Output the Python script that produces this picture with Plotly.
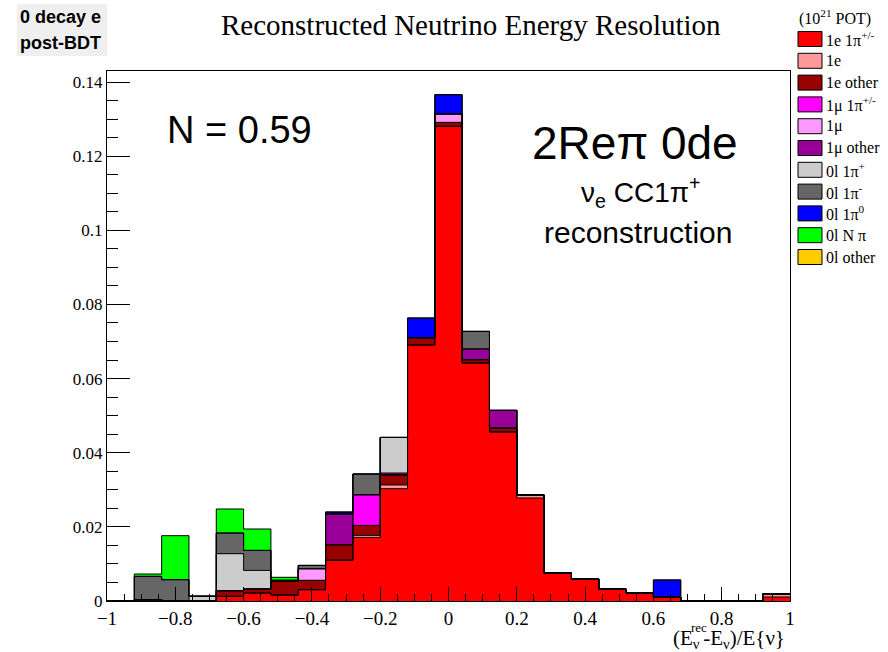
import numpy as np
import plotly.graph_objects as go

# ---- histogram binning: 25 bins of width 0.08 on [-1, 1] ----
bin_edges = [-1.0, -0.92, -0.84, -0.76, -0.68, -0.60, -0.52, -0.44, -0.36, -0.28,
             -0.20, -0.12, -0.04, 0.04, 0.12, 0.20, 0.28, 0.36, 0.44, 0.52,
             0.60, 0.68, 0.76, 0.84, 0.92, 1.0]

# ---- stacked components (bottom to top), per bin ----
e_1pipm = [0, 0, 0, 0, 0.00124, 0.00216, 0.00162, 0.00305, 0.0110, 0.01716, 0.0303, 0.06906, 0.12803,
           0.0642, 0.04559, 0.02779, 0.00755, 0.00594, 0.00324, 0.00216, 0.00108, 0, 0, 0, 0.00108]
e_only = [0, 0, 0, 0, 0, 0, 0, 0, 0, 0.00054, 0.0010, 0, 0,
          0, 0, 0.00081, 0, 0, 0, 0, 0, 0, 0, 0, 0.00081]
e_other = [0, 0.0004, 0, 0, 0.00154, 0.00108, 0.00367, 0.00251, 0.00419, 0.0027, 0.0027, 0.00197, 0.00107,
           0.00089, 0.00108, 0, 0, 0, 0, 0, 0, 0, 0, 0, 0]
mu_1pipm = [0, 0, 0, 0, 0, 0, 0, 0, 0, 0.00828, 0, 0, 0,
            0, 0, 0, 0, 0, 0, 0, 0, 0, 0, 0, 0]
mu_only = [0, 0, 0, 0, 0, 0, 0, 0.00315, 0, 0, 0, 0, 0.00227,
           0, 0, 0, 0, 0, 0, 0, 0, 0, 0, 0, 0]
mu_other = [0, 0, 0, 0, 0, 0, 0, 0, 0.00828, 0, 0.00053, 0, 0,
            0.00289, 0.00475, 0, 0, 0, 0, 0, 0, 0, 0, 0, 0]
nl_1pip = [0, 0, 0, 0.0013, 0.00998, 0.00501, 0, 0, 0, 0, 0.0096, 0, 0,
           0, 0, 0, 0, 0, 0, 0, 0, 0, 0, 0, 0]
nl_1pim = [0, 0.00624, 0.00575, 0, 0.00558, 0.0054, 0.0003, 0.00089, 0, 0.00558, 0, 0, 0,
           0.00475, 0, 0, 0, 0, 0, 0, 0, 0, 0, 0, 0]
nl_1pi0 = [0, 0, 0, 0, 0, 0, 0, 0, 0.00053, 0, 0, 0.00531, 0.00521,
           0, 0, 0, 0, 0, 0, 0, 0.00459, 0, 0, 0, 0]
nl_npi = [0, 0.00064, 0.01187, 0, 0.00648, 0.00577, 0.0008, 0, 0, 0, 0, 0, 0,
          0, 0, 0, 0, 0, 0, 0, 0, 0, 0, 0, 0]
nl_other = [0] * 25

series = [e_1pipm, e_only, e_other, mu_1pipm, mu_only, mu_other,
          nl_1pip, nl_1pim, nl_1pi0, nl_npi, nl_other]
labels = ["1e 1π<sup>+/-</sup>", "1e", "1e other", "1μ 1π<sup>+/-</sup>", "1μ", "1μ other",
          "0l 1π<sup>+</sup>", "0l 1π<sup>-</sup>", "0l 1π<sup>0</sup>", "0l N π", "0l other"]
colors = ["#ff0000", "#ff9999", "#990000", "#ff00ff", "#ff99ff", "#990099",
          "#cccccc", "#666666", "#0000ff", "#00ff00", "#ffcc00"]

x_tick_vals = [-1, -0.8, -0.6, -0.4, -0.2, 0, 0.2, 0.4, 0.6, 0.8, 1]
x_tick_text = ["−1", "−0.8", "−0.6", "−0.4", "−0.2", "0", "0.2", "0.4", "0.6", "0.8", "1"]
y_tick_vals = [0, 0.02, 0.04, 0.06, 0.08, 0.10, 0.12, 0.14]
y_tick_text = ["0", "0.02", "0.04", "0.06", "0.08", "0.1", "0.12", "0.14"]

edges = np.array(bin_edges)
centers = 0.5 * (edges[:-1] + edges[1:])
widths = np.diff(edges)

# ---- canvas geometry ----
W, H = 888, 652
ML, MR, MT, MB = 107, 98, 71, 51
PW, PH = W - ML - MR, H - MT - MB


def px(x):
    return (x - ML) / PW


def py(y):
    return (H - MB - y) / PH


SERIF = "Liberation Serif"
SANS = "Liberation Sans"

fig = go.Figure()

# filled stack segments
for vals, name, col in zip(series, labels, colors):
    fig.add_trace(go.Bar(
        x=centers, y=vals, width=widths, name=name,
        marker=dict(color=col, line=dict(width=0)),
        showlegend=False, hoverinfo="skip",
    ))

# outline of each cumulative layer, drawn as a step contour
cum = np.zeros(len(centers))
for vals in series:
    cum = cum + np.array(vals)
    if not np.any(np.array(vals) > 0):
        continue
    fig.add_trace(go.Scatter(
        x=edges, y=np.append(cum, cum[-1]), mode="lines",
        line=dict(color="black", width=1, shape="hv"),
        showlegend=False, hoverinfo="skip",
    ))

shapes = []
annotations = []

# top-left label box
shapes.append(dict(type="rect", xref="paper", yref="paper",
                   x0=px(17), x1=px(107), y0=py(56), y1=py(4),
                   fillcolor="#efefef", line=dict(width=0), layer="below"))
for txt, yy in [("0 decay e", 17), ("post-BDT", 43)]:
    annotations.append(dict(text=f"<b>{txt}</b>", xref="paper", yref="paper",
                            x=px(18), y=py(yy), xanchor="left", yanchor="middle",
                            showarrow=False, font=dict(family=SANS, size=18, color="black")))

# title
annotations.append(dict(text="Reconstructed Neutrino Energy Resolution", xref="paper", yref="paper",
                        x=px(471), y=py(25), xanchor="center", yanchor="middle",
                        showarrow=False, font=dict(family=SERIF, size=29, color="black")))

# in-plot texts
annotations.append(dict(text="N = 0.59", xref="paper", yref="paper",
                        x=px(239), y=py(130), xanchor="center", yanchor="middle",
                        showarrow=False, font=dict(family=SANS, size=38, color="black")))
annotations.append(dict(text="2Reπ 0de", xref="paper", yref="paper",
                        x=px(635), y=py(143), xanchor="center", yanchor="middle",
                        showarrow=False, font=dict(family=SANS, size=46, color="black")))
annotations.append(dict(text="ν<sub>e</sub> CC1π<sup>+</sup>", xref="paper", yref="paper",
                        x=px(640), y=py(192), xanchor="center", yanchor="middle",
                        showarrow=False, font=dict(family=SANS, size=28, color="black")))
annotations.append(dict(text="reconstruction", xref="paper", yref="paper",
                        x=px(637.5), y=py(232), xanchor="center", yanchor="middle",
                        showarrow=False, font=dict(family=SANS, size=30, color="black")))

# x-axis title
annotations.append(dict(text="(E<sub>ν\u00a0</sub>-E<sub>ν</sub>)/E{ν}", xref="paper", yref="paper",
                        x=px(787), y=py(639), xanchor="right", yanchor="middle",
                        showarrow=False, font=dict(family=SERIF, size=21, color="black")))
annotations.append(dict(text="rec", xref="paper", yref="paper",
                        x=px(689), y=py(627), xanchor="left", yanchor="middle",
                        showarrow=False, font=dict(family=SERIF, size=13, color="black")))

# legend block
annotations.append(dict(text="(10<sup>21</sup> POT)", xref="paper", yref="paper",
                        x=px(797), y=py(18), xanchor="left", yanchor="middle",
                        showarrow=False, font=dict(family=SERIF, size=16, color="black")))
for i, (name, col) in enumerate(zip(labels, colors)):
    yc = 39 + 21.8 * i
    shapes.append(dict(type="rect", xref="paper", yref="paper",
                       x0=px(798), x1=px(822), y0=py(yc + 7.5), y1=py(yc - 7.5),
                       fillcolor=col, line=dict(color="black", width=1)))
    annotations.append(dict(text=name, xref="paper", yref="paper",
                            x=px(824), y=py(yc), xanchor="left", yanchor="middle",
                            showarrow=False, font=dict(family=SERIF, size=16, color="black")))

fig.update_layout(
    width=W, height=H,
    margin=dict(l=ML, r=MR, t=MT, b=MB, pad=0),
    paper_bgcolor="white", plot_bgcolor="white",
    barmode="stack", bargap=0,
    shapes=shapes, annotations=annotations,
    font=dict(family=SERIF, color="black"),
    xaxis=dict(
        range=[-1, 1], tickmode="array", tickvals=x_tick_vals, ticktext=x_tick_text,
        ticks="inside", ticklen=14, tickwidth=1, tickcolor="black",
        minor=dict(dtick=0.05, tick0=-1, ticks="inside", ticklen=7, tickcolor="black", tickwidth=1),
        showgrid=False, zeroline=False, showline=True, linecolor="black", linewidth=1, mirror=True,
        tickfont=dict(family=SERIF, size=19, color="black"),
    ),
    yaxis=dict(
        range=[0, PH / 3707.0], tickmode="array", tickvals=y_tick_vals, ticktext=y_tick_text,
        ticks="inside", ticklen=23, tickwidth=1, tickcolor="black",
        minor=dict(dtick=0.005, tick0=0, ticks="inside", ticklen=11, tickcolor="black", tickwidth=1),
        showgrid=False, zeroline=False, showline=True, linecolor="black", linewidth=1, mirror=True,
        tickfont=dict(family=SERIF, size=17, color="black"),
    ),
)

fig.write_html("out.html")
